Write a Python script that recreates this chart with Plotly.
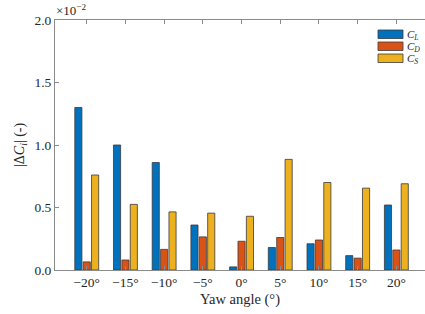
import plotly.graph_objects as go

categories = ["−20°", "−15°", "−10°", "−5°", "0°", "5°", "10°", "15°", "20°"]
# values in units of 1e-2
cl = [1.30, 1.00, 0.86, 0.36, 0.025, 0.18, 0.21, 0.115, 0.52]
cd = [0.065, 0.08, 0.165, 0.265, 0.23, 0.26, 0.24, 0.095, 0.16]
cs = [0.76, 0.525, 0.465, 0.455, 0.43, 0.885, 0.70, 0.655, 0.69]
series_names = ["C<sub>L</sub>", "C<sub>D</sub>", "C<sub>S</sub>"]
colors = ["#0072BD", "#D95319", "#EDB120"]
yticks = [0.0, 0.5, 1.0, 1.5, 2.0]

FONT = "Liberation Serif"
W, H = 425, 314
L, R, T, B = 55, 0, 20, 44
PW, PH = W - L - R, H - T - B

def px(x):
    return (x - L) / PW

def py(y):
    return (H - B - y) / PH

fig = go.Figure()
for vals, name, col in zip([cl, cd, cs], series_names, colors):
    fig.add_trace(go.Bar(x=categories, y=vals, name=name, marker_color=col,
                         marker_line=dict(color="#3a3a3a", width=0.8),
                         showlegend=False, hoverinfo="skip"))

fig.update_layout(
    width=W, height=H,
    margin=dict(l=L, r=R, t=T, b=B),
    paper_bgcolor="white", plot_bgcolor="white",
    barmode="group", bargap=0.35, bargroupgap=0.15,
    font=dict(family=FONT, size=13.5, color="#262626"),
    xaxis=dict(range=[-0.82, 8.74], showline=True, linecolor="#8a8a8a", linewidth=1,
               mirror="ticks", ticks="inside", ticklen=4, tickcolor="#8a8a8a",
               showgrid=False, tickfont=dict(size=13.5),
               title=dict(text="Yaw angle (°)", font=dict(size=14.5), standoff=4)),
    yaxis=dict(range=[0, 2.0], tickvals=yticks, ticktext=[f"{v:.1f}" for v in yticks],
               showline=True, linecolor="#8a8a8a", linewidth=1, ticks="inside",
               ticklen=4, tickcolor="#8a8a8a", showgrid=False, zeroline=False,
               tickfont=dict(size=13.5)),
)

# exponent label
fig.add_annotation(text="×10<sup>−2</sup>", xref="paper", yref="paper", x=px(54), y=py(20.5),
                   xanchor="left", yanchor="bottom", showarrow=False,
                   font=dict(size=13))
# y title
fig.add_annotation(text="|Δ<i>C<sub>i</sub></i>| (-)", xref="paper", yref="paper",
                   x=px(20), y=py(145), textangle=-90, showarrow=False, xanchor="center",
                   yanchor="middle", font=dict(size=14))

# legend (patches + labels)
for i, (name, col) in enumerate(zip(series_names, colors)):
    y0 = 30 + i * 12
    fig.add_shape(type="rect", xref="paper", yref="paper",
                  x0=px(378), x1=px(403), y0=py(y0 + 8.5), y1=py(y0),
                  fillcolor=col, line=dict(color="#3a3a3a", width=0.8))
    fig.add_annotation(text="<i>" + name + "</i>", xref="paper", yref="paper",
                       x=px(404.5), y=py(y0 + 4.5),
                       xanchor="left", yanchor="middle", showarrow=False,
                       font=dict(size=11))

fig.write_html("out.html", config={"displayModeBar": False},
               post_script="document.body.style.margin='0';")
